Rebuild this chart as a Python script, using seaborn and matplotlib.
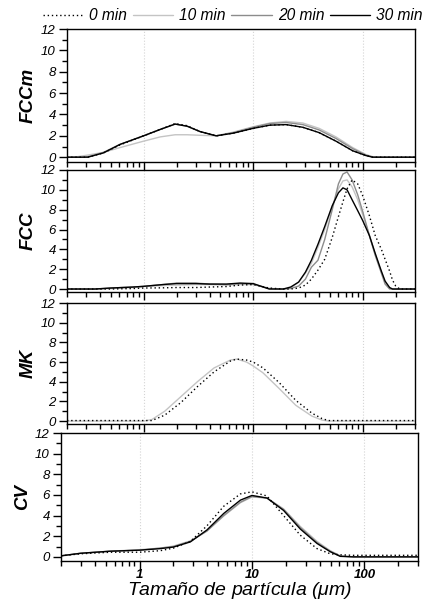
#!/usr/bin/env python3
"""Distribucion de tamano de particula - 4 paneles (FCCm, FCC, MK, CV)"""

import numpy as np
import pandas as pd
import matplotlib
matplotlib.use('Agg')
import matplotlib.pyplot as plt
from matplotlib.ticker import LogLocator, MultipleLocator, NullFormatter, FixedLocator, FixedFormatter
import seaborn as sns

# ---- datos ----
series_labels = ['0 min', '10 min', '20 min', '30 min']

# FCCm
x_fccm = [0.2, 0.25, 0.31, 0.43, 0.61, 1.0, 1.42, 1.94, 2.5, 3.27, 4.6, 6.6, 10, 14.2,
          20, 28.4, 40, 57, 81, 107, 123, 150, 300]
fccm_0 = [0, 0, 0, 0.4, 1.15, 2.0, 2.6, 3.15, 2.95, 2.4, 2.0, 2.25, 2.7, 3.0,
          3.05, 2.8, 2.3, 1.5, 0.6, 0.15, 0, 0, 0]
fccm_10 = [0, 0.05, 0.2, 0.45, 0.9, 1.5, 1.9, 2.1, 2.1, 2.05, 2.0, 2.35, 2.85, 3.2,
           3.35, 3.2, 2.7, 1.9, 0.9, 0.25, 0.05, 0, 0]
fccm_20 = [0, 0, 0.05, 0.45, 1.2, 2.0, 2.6, 3.1, 2.9, 2.4, 2.0, 2.3, 2.8, 3.15,
           3.25, 3.05, 2.55, 1.75, 0.8, 0.2, 0.02, 0, 0]
fccm_30 = [0, 0, 0, 0.4, 1.2, 2.0, 2.6, 3.1, 2.9, 2.4, 2.0, 2.25, 2.7, 3.0,
           3.05, 2.8, 2.3, 1.5, 0.6, 0.15, 0, 0, 0]

# FCC
x_fcc = [0.2, 0.36, 0.5, 0.8, 1.0, 1.5, 2.0, 3.0, 4.0, 5.7, 7.6, 10, 14, 18.8, 22, 26,
         30, 34, 39, 45, 52.7, 60, 66, 72, 80, 90, 100, 115, 130, 148, 160, 176, 187,
         200, 218, 300]
fcc_0 = [0, 0, 0, 0.05, 0.1, 0.12, 0.15, 0.15, 0.2, 0.25, 0.4, 0.45, 0.1, 0, 0, 0.1,
         0.4, 1.0, 1.9, 3.0, 5.2, 7.3, 8.8, 10.1, 11.0, 10.6, 9.4, 7.4, 5.4, 4.0, 3.0, 1.8, 0.9,
         0.3, 0, 0]
fcc_10 = [0, 0, 0.05, 0.15, 0.25, 0.35, 0.4, 0.45, 0.45, 0.4, 0.45, 0.45, 0.05, 0, 0.1, 0.7,
          1.6, 2.6, 4.2, 6.0, 8.3, 10.1, 10.9, 11.0, 10.3, 9.0, 7.5, 5.4, 3.5, 1.7, 0.7, 0.1, 0,
          0, 0, 0]
fcc_20 = [0, 0, 0.1, 0.2, 0.27, 0.45, 0.6, 0.6, 0.5, 0.45, 0.55, 0.5, 0.05, 0, 0.05, 0.3,
          1.0, 2.2, 2.9, 5.0, 8.0, 10.6, 11.6, 11.8, 11.0, 9.5, 7.8, 5.4, 3.4, 1.6, 0.5, 0, 0,
          0, 0, 0]
fcc_30 = [0, 0, 0.1, 0.2, 0.27, 0.45, 0.55, 0.55, 0.5, 0.5, 0.6, 0.55, 0, 0, 0.2, 0.7,
          1.7, 2.9, 4.5, 6.3, 8.4, 9.7, 10.2, 10.0, 9.0, 7.9, 6.9, 5.4, 3.6, 1.8, 0.8, 0.15, 0,
          0, 0, 0]

# MK (solo 0 y 10 min)
x_mk = [0.2, 1.0, 1.19, 1.56, 2.2, 3.1, 4.4, 6.2, 7.1, 8.7, 10, 12.3, 17.3, 24.5, 34.4,
        42.5, 48.7, 55, 300]
mk_0 = [0.05, 0.05, 0.05, 0.6, 1.9, 3.5, 5.0, 6.1, 6.3, 6.2, 6.0, 5.4, 3.9, 2.1, 0.8,
        0.25, 0.05, 0.05, 0.05]
mk_10 = [0, 0, 0.15, 1.0, 2.5, 4.0, 5.4, 6.2, 6.3, 6.0, 5.6, 4.9, 3.3, 1.6, 0.5,
         0.1, 0, 0, 0]

# CV
x_cv = [0.2, 0.3, 0.55, 1.0, 1.53, 2.0, 2.83, 3.97, 5.6, 7.9, 10, 13.6, 19.1, 26.9, 37.9,
        49.7, 61, 80, 300]
cv_0 = [0.1, 0.3, 0.45, 0.45, 0.6, 0.85, 1.5, 3.0, 4.9, 6.1, 6.3, 5.9, 4.0, 2.1, 0.8,
        0.3, 0.2, 0.15, 0.15]
cv_10 = [0.1, 0.35, 0.55, 0.7, 0.85, 1.05, 1.55, 2.5, 3.95, 5.25, 5.8, 5.7, 4.65, 2.95, 1.5,
         0.6, 0.1, 0, 0]
cv_20 = [0.1, 0.35, 0.55, 0.65, 0.85, 1.0, 1.5, 2.5, 4.0, 5.3, 5.85, 5.7, 4.6, 2.85, 1.4,
         0.55, 0.08, 0, 0]
cv_30 = [0.1, 0.35, 0.55, 0.65, 0.8, 0.95, 1.45, 2.6, 4.2, 5.5, 5.95, 5.7, 4.5, 2.7, 1.3,
         0.5, 0.05, 0, 0]

# estilos por serie
styles = {
    '0 min': dict(color='black', linestyle=(0, (1, 2)), linewidth=1.0),
    '10 min': dict(color='#c4c4c4', linestyle='-', linewidth=1.0),
    '20 min': dict(color='#8c8c8c', linestyle='-', linewidth=1.0),
    '30 min': dict(color='black', linestyle='-', linewidth=1.0),
}
draw_order = ['10 min', '20 min', '30 min', '0 min']

panels = [
    ('FCCm', x_fccm, {'0 min': fccm_0, '10 min': fccm_10, '20 min': fccm_20, '30 min': fccm_30}),
    ('FCC', x_fcc, {'0 min': fcc_0, '10 min': fcc_10, '20 min': fcc_20, '30 min': fcc_30}),
    ('MK', x_mk, {'0 min': mk_0, '10 min': mk_10}),
    ('CV', x_cv, {'0 min': cv_0, '10 min': cv_10, '20 min': cv_20, '30 min': cv_30}),
]

# posiciones en pixeles (izq, der, arriba, abajo)
W, H = 427, 603
boxes = [(67, 415, 29, 162), (67, 415, 170, 292), (67, 415, 303, 424), (61, 418, 433, 561)]
ybottoms = [-0.45, -0.3, -0.3, -0.4]

sns.set_style('ticks')
plt.rcParams['font.family'] = ['Liberation Sans', 'DejaVu Sans']
plt.rcParams['mathtext.fontset'] = 'custom'
plt.rcParams['mathtext.it'] = 'Liberation Sans:italic'
for key in ['text.color', 'axes.labelcolor', 'xtick.color', 'ytick.color']:
    plt.rcParams[key] = 'black'

fig = plt.figure(figsize=(W / 100, H / 100), dpi=100)

handles = {}
for i, (name, xs, data) in enumerate(panels):
    l, r, t, b = boxes[i]
    ax = fig.add_axes([l / W, 1 - b / H, (r - l) / W, (b - t) / H])
    for lab in draw_order:
        if lab not in data:
            continue
        df = pd.DataFrame({'x': xs, 'y': data[lab]})
        sns.lineplot(data=df, x='x', y='y', ax=ax, label=lab, legend=False, **styles[lab])
    for line, lab in zip(ax.get_lines(), [d for d in draw_order if d in data]):
        handles.setdefault(lab, line)

    ax.set_xscale('log')
    ax.set_xlim(0.2, 300)
    ax.set_ylim(ybottoms[i], 12)
    ax.xaxis.set_major_locator(FixedLocator([1, 10, 100]))
    ax.xaxis.set_minor_locator(LogLocator(base=10, subs=np.arange(2, 10), numticks=20))
    ax.xaxis.set_minor_formatter(NullFormatter())
    ax.yaxis.set_major_locator(MultipleLocator(2))
    ax.yaxis.set_minor_locator(MultipleLocator(1))
    ax.tick_params(which='major', direction='out', length=6, width=1, color='black')
    ax.tick_params(which='minor', direction='out', length=3.5, width=1, color='black')
    ax.tick_params(axis='y', labelsize=9.5, pad=2)
    for tl in ax.get_yticklabels():
        tl.set_fontstyle('italic')
    ax.grid(axis='x', which='major', linestyle=':', color='#d4d4d4', linewidth=0.8)
    for sp in ax.spines.values():
        sp.set_visible(True)
        sp.set_color('black')
        sp.set_linewidth(1.0)
    ax.set_ylabel(name, fontsize=13.5, fontweight='bold', fontstyle='italic', labelpad=3)
    if i < 3:
        ax.set_xlabel('')
        ax.xaxis.set_major_formatter(NullFormatter())
    else:
        ax.xaxis.set_major_formatter(FixedFormatter(['1', '10', '100']))
        ax.tick_params(axis='x', labelsize=9.5, pad=0)
        for tl in ax.get_xticklabels():
            tl.set_fontweight('bold')
            tl.set_fontstyle('italic')
        ax.set_xlabel(r'Tamaño de partícula ($\mu$m)', fontsize=14,
                      fontstyle='italic', labelpad=-1)

fig.legend([handles[s] for s in series_labels], series_labels, loc='upper center',
           bbox_to_anchor=(0.545, 1.01), ncol=4, frameon=False, handlelength=2.6,
           handletextpad=0.4, columnspacing=0.35, prop={'style': 'italic', 'size': 11.2})

fig.savefig('out.png', dpi=100)
